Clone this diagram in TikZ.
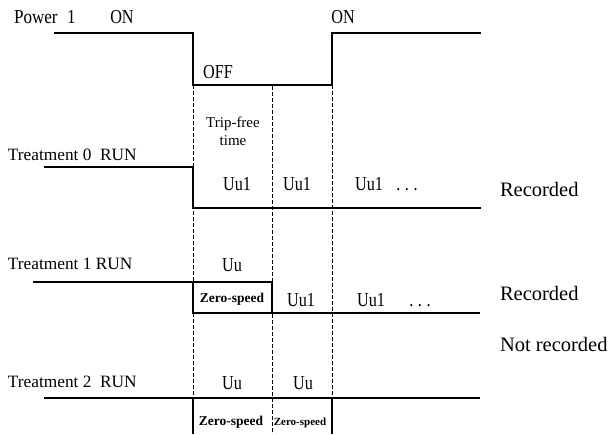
\documentclass[tikz,border=0pt]{standalone}
\usepackage{fontspec}
\setmainfont{Liberation Serif}
\begin{document}
\begin{tikzpicture}[x=1pt,y=-1pt,
  wave/.style={line width=1.2pt},
  grid/.style={line width=0.9pt, dash pattern=on 3.5pt off 2.5pt},
  txt/.style={inner sep=0pt, outer sep=0pt},
  lbl/.style={txt, anchor=base west, font=\fontsize{17.3}{20}\selectfont},
  rec/.style={txt, anchor=base west, font=\fontsize{20.5}{23}\selectfont},
  sim/.style={txt, anchor=base, font=\fontsize{18}{20}\selectfont, xscale=0.9, yscale=1.1},
  small/.style={txt, anchor=base, font=\fontsize{15}{18}\selectfont},
  zs/.style={txt, anchor=base, font=\bfseries\fontsize{13.5}{16}\selectfont},
  zss/.style={txt, anchor=base, font=\bfseries\fontsize{11}{13}\selectfont}
]
\useasboundingbox (0,0) rectangle (612,434);

% power waveform
\coordinate (p0) at (54,33);
\coordinate (p1) at (193,33);
\coordinate (p2) at (193,85);
\coordinate (p3) at (332,85);
\coordinate (p4) at (332,33);
\coordinate (p5) at (481,33);

% dashed guides
\coordinate (g1t) at (193,85);  \coordinate (g1b) at (193,434);
\coordinate (g2t) at (272,86);  \coordinate (g2b) at (272,434);
\coordinate (g3t) at (332,85);  \coordinate (g3b) at (332,434);
\draw[grid] (g1t) -- (g1b);
\draw[grid] (g2t) -- (g2b);
\draw[grid] (g3t) -- (g3b);

\draw[wave] (p0) -- (p1) -- (p2) -- (p3) -- (p4) -- (p5);

% treatment 0
\coordinate (a0) at (44,167);
\coordinate (a1) at (193,167);
\coordinate (a2) at (193,208);
\coordinate (a3) at (481,208);
\draw[wave] (a0) -- (a1) -- (a2) -- (a3);

% treatment 1
\coordinate (b0) at (33,282);
\coordinate (b1) at (193,282);
\coordinate (b2) at (272,282);
\coordinate (b3) at (272,313);
\coordinate (b4) at (193,313);
\coordinate (b5) at (480,313);
\draw[wave] (b0) -- (b2) -- (b3);
\draw[wave] (b1) -- (b4) -- (b5);

% treatment 2
\coordinate (c0) at (44,398);
\coordinate (c1) at (480,398);
\coordinate (c2) at (193,398);
\coordinate (c3) at (193,434);
\coordinate (c4) at (332,398);
\coordinate (c5) at (332,434);
\draw[wave] (c0) -- (c1);
\draw[wave] (c2) -- (c3);
\draw[wave] (c4) -- (c5);

% labels
\node[lbl, font=\fontsize{18}{20}\selectfont, xscale=0.95, yscale=1.1] (pw) at (14,23) {Power\hspace{10pt}1};
\node[sim] (on1) at (122,23) {ON};
\node[sim] (on2) at (343,23) {ON};
\node[sim] (off) at (218,78) {OFF};

\node[lbl] (t0) at (8,160) {Treatment 0\ \ RUN};
\node[lbl] (t1) at (8,269) {Treatment 1 RUN};
\node[lbl] (t2) at (8,387) {Treatment 2\ \ RUN};

\node[rec] (r0) at (500,196) {Recorded};
\node[rec] (r1) at (500,300) {Recorded};
\node[rec] (r2) at (500,351) {Not recorded};

\node[small] (tf1) at (233,127) {Trip-free};
\node[small] (tf2) at (233,145) {time};

\node[sim] (u01) at (237,190) {Uu1};
\node[sim] (u02) at (297,190) {Uu1};
\node[sim] (u03) at (369,190) {Uu1};
\node[sim] (d0) at (407,190) {.\hspace{5pt}.\hspace{5pt}.};

\node[sim] (u11) at (232,271) {Uu};
\node[zs] (z11) at (232,302) {Zero-speed};
\node[sim] (u12) at (301,306) {Uu1};
\node[sim] (u13) at (371,306) {Uu1};
\node[sim] (d1) at (420,306) {.\hspace{5pt}.\hspace{5pt}.};

\node[sim] (u21) at (232,389) {Uu};
\node[sim] (u22) at (303,389) {Uu};
\node[zs] (z21) at (231,425) {Zero-speed};
\node[zss] (z22) at (300,425) {Zero-speed};
\end{tikzpicture}
\end{document}
